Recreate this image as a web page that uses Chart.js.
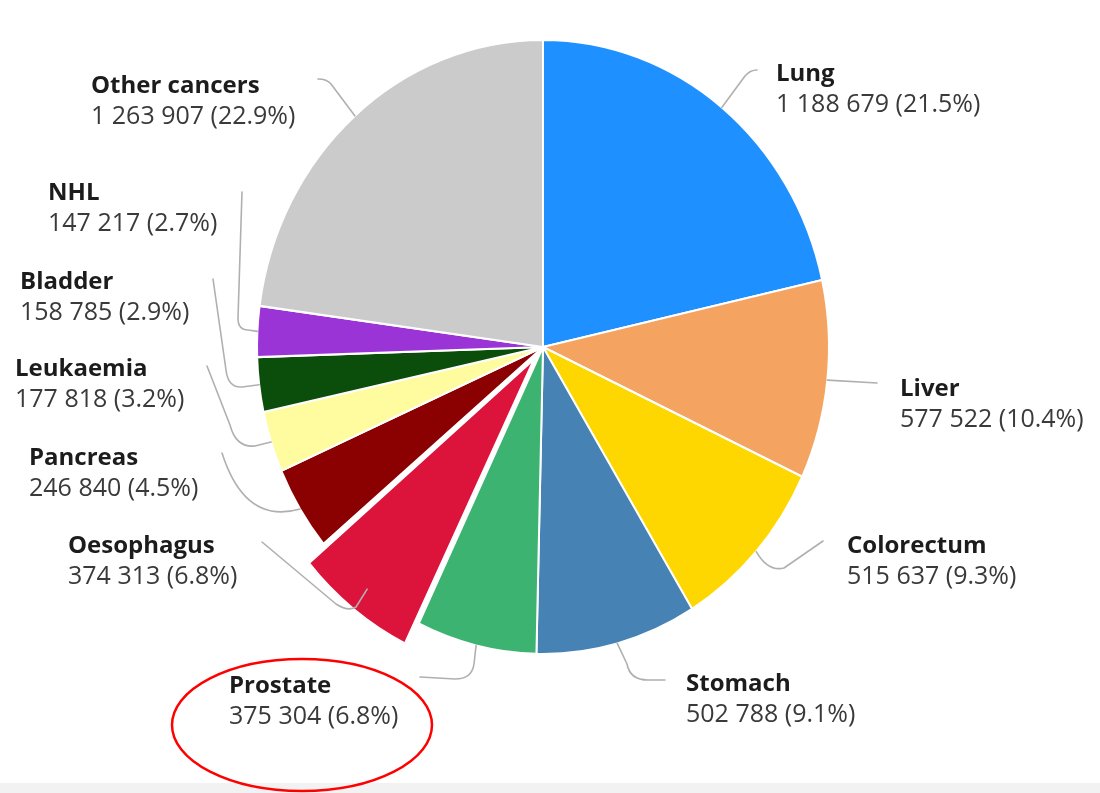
<!DOCTYPE html>
<html>
<head>
<meta charset="utf-8">
<title>New cancer cases by site</title>
<script src="https://cdn.jsdelivr.net/npm/chart.js@4/dist/chart.umd.min.js"></script>
<style>
  html, body { margin: 0; padding: 0; background: #ffffff; }
  #wrap { position: relative; width: 1100px; height: 793px; }
</style>
</head>
<body>
<div id="wrap"><canvas id="pie"></canvas></div>
<script>
// Sites, clockwise from 12 o'clock
const sites = ['Lung', 'Liver', 'Colorectum', 'Stomach', 'Prostate', 'Oesophagus',
               'Pancreas', 'Leukaemia', 'Bladder', 'NHL', 'Other cancers'];
// New cases
const cases = [1188679, 577522, 515637, 502788, 375304, 374313,
               246840, 177818, 158785, 147217, 1263907];
// Share of all cases, as printed
const shares = [21.5, 10.4, 9.3, 9.1, 6.8, 6.8, 4.5, 3.2, 2.9, 2.7, 22.9];

const sliceColors = ['#1e90ff', '#f4a460', '#ffd700', '#4682b4', '#3cb371', '#dc143c',
                     '#8b0000', '#fffca0', '#0b4d0b', '#9b34d6', '#cbcbcb'];
// Chart.js moves an arc out by a quarter of its offset value
const sliceOffsets = [0, 0, 0, 0, 0, 58, 0, 0, 0, 0, 0];

// Pie is drawn slightly taller than wide
const STRETCH_Y = 307 / 286;

// Label anchors (left edge of text, middle of first line) and leader routes.
// Each route starts at the slice rim (computed) and follows these segments.
const labelLayout = [
  { x: 776, y: 74,  route: [['l', 745, 76], ['q', 750, 70, 757, 70]] },
  { x: 900, y: 389, route: [['l', 877, 383]] },
  { x: 847, y: 546, route: [['q', 768, 572, 784, 568], ['l', 823, 541]] },
  { x: 686, y: 684, route: [['l', 627, 664], ['q', 630, 680, 648, 680], ['l', 665, 680]] },
  { x: 229, y: 686, route: [['l', 474, 664], ['q', 472, 679, 455, 679], ['l', 420, 677]] },
  { x: 68,  y: 546, route: [['l', 356, 607], ['q', 348, 612, 336, 604], ['l', 262, 542]] },
  { x: 29,  y: 458, route: [['q', 245, 525, 222, 453]] },
  { x: 15,  y: 369, route: [['l', 255, 446], ['q', 236, 448, 230, 425], ['l', 207, 366]] },
  { x: 20,  y: 282, route: [['l', 242, 387], ['q', 228, 388, 226, 370], ['l', 213, 279]] },
  { x: 48,  y: 193, route: [['l', 248, 330], ['q', 238, 330, 238, 318], ['l', 242, 192]] },
  { x: 91,  y: 86,  route: [['l', 331, 84], ['q', 327, 79, 318, 79]] }
];

function formatCases(n) {
  return String(n).replace(/\B(?=(\d{3})+(?!\d))/g, ' ');
}

const stretchPlugin = {
  id: 'stretch',
  beforeDatasetsDraw(chart) {
    const arc = chart.getDatasetMeta(0).data[0];
    const ctx = chart.ctx;
    ctx.save();
    ctx.translate(arc.x, arc.y);
    ctx.scale(1, STRETCH_Y);
    ctx.translate(-arc.x, -arc.y);
  },
  afterDatasetsDraw(chart) {
    chart.ctx.restore();
  }
};

const backdropPlugin = {
  id: 'backdrop',
  beforeDraw(chart) {
    const ctx = chart.ctx;
    ctx.save();
    ctx.fillStyle = '#ffffff';
    ctx.fillRect(0, 0, chart.width, chart.height);
    ctx.fillStyle = '#f2f2f2';
    ctx.fillRect(0, 783, chart.width, chart.height - 783);
    ctx.restore();
  }
};

const labelPlugin = {
  id: 'sliceLabels',
  afterDraw(chart) {
    const ctx = chart.ctx;
    const arcs = chart.getDatasetMeta(0).data;
    ctx.save();
    // leader lines
    ctx.strokeStyle = '#b0b0b0';
    ctx.lineWidth = 1.6;
    ctx.lineJoin = 'round';
    ctx.lineCap = 'round';
    arcs.forEach((arc, i) => {
      const mid = (arc.startAngle + arc.endAngle) / 2;
      const sx = arc.x + arc.outerRadius * Math.cos(mid);
      const sy = arc.y + arc.outerRadius * Math.sin(mid) * STRETCH_Y;
      ctx.beginPath();
      ctx.moveTo(sx, sy);
      labelLayout[i].route.forEach(seg => {
        if (seg[0] === 'l') ctx.lineTo(seg[1], seg[2]);
        else ctx.quadraticCurveTo(seg[1], seg[2], seg[3], seg[4]);
      });
      ctx.stroke();
    });
    // text
    ctx.textAlign = 'left';
    ctx.textBaseline = 'middle';
    sites.forEach((name, i) => {
      const p = labelLayout[i];
      ctx.fillStyle = '#1c1c1c';
      ctx.font = 'bold 24px "Open Sans", "Noto Sans", sans-serif';
      ctx.fillText(name, p.x, p.y);
      ctx.fillStyle = '#3a3a3a';
      ctx.font = '25px "Open Sans", "Noto Sans", sans-serif';
      ctx.fillText(formatCases(cases[i]) + ' (' + shares[i].toFixed(1) + '%)', p.x, p.y + 31);
    });
    // hand-drawn highlight ring around the Prostate label
    ctx.strokeStyle = '#ff0000';
    ctx.lineWidth = 2.5;
    ctx.beginPath();
    ctx.ellipse(302, 725, 130, 66, 0, 0, Math.PI * 2);
    ctx.stroke();
    ctx.restore();
  }
};

new Chart(document.getElementById('pie'), {
  type: 'pie',
  data: {
    labels: sites,
    datasets: [{
      data: cases,
      backgroundColor: sliceColors,
      borderColor: '#ffffff',
      borderWidth: 2,
      offset: sliceOffsets,
      radius: 286
    }]
  },
  options: {
    responsive: true,
    maintainAspectRatio: false,
    animation: false,
    layout: { padding: { left: 0, right: 14, top: 0, bottom: 99 } },
    plugins: {
      legend: { display: false },
      tooltip: { enabled: false }
    }
  },
  plugins: [backdropPlugin, stretchPlugin, labelPlugin]
});
</script>
</body>
</html>
